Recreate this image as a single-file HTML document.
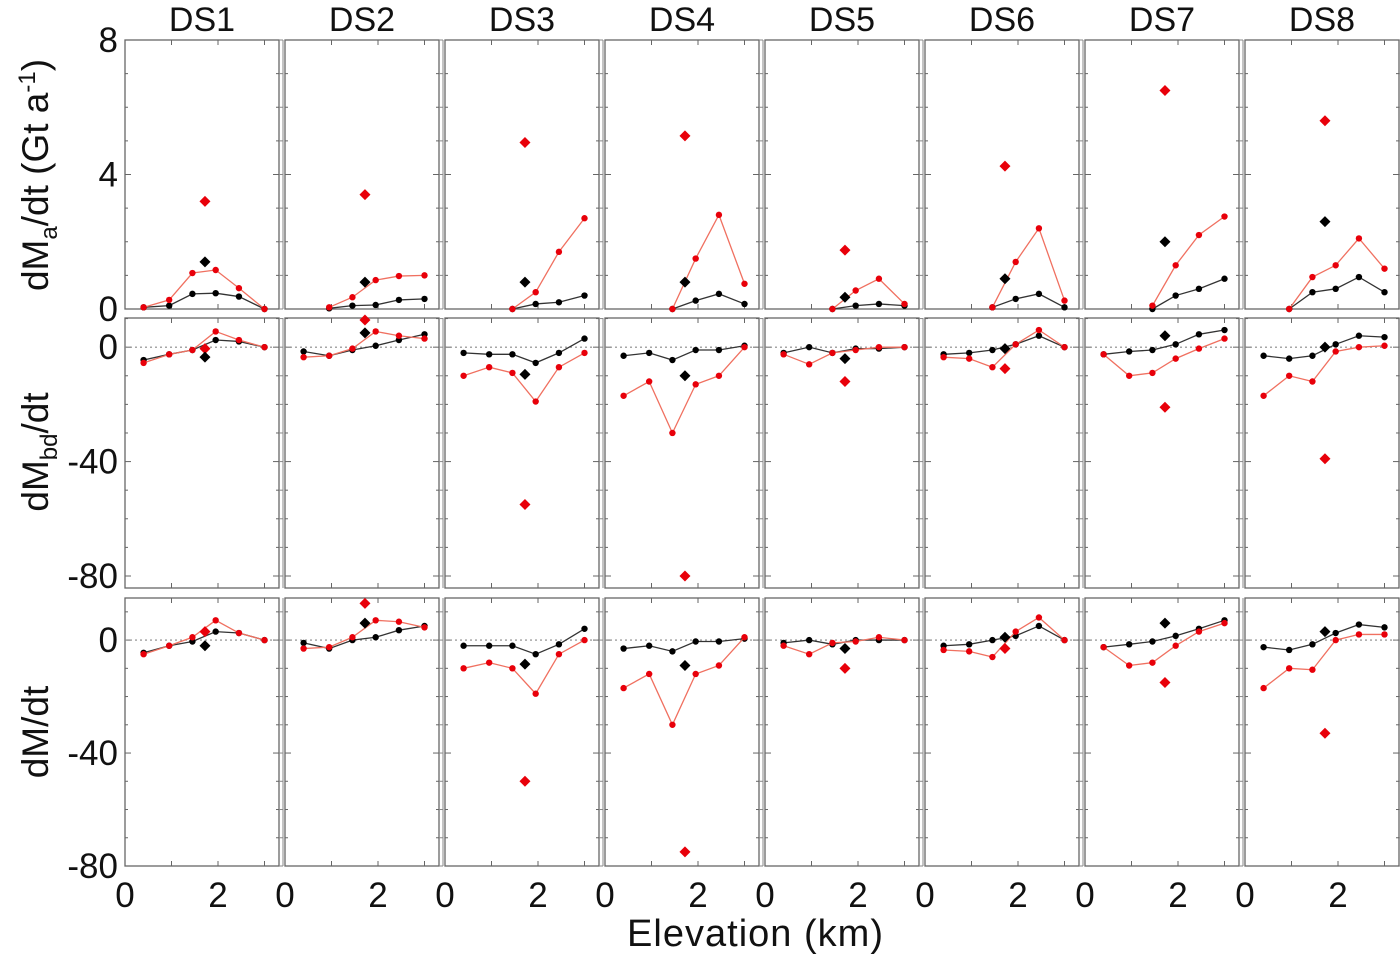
<!DOCTYPE html>
<html><head><meta charset="utf-8"><style>
html,body{margin:0;padding:0;background:#fff;}
svg{display:block;font-family:"Liberation Sans",sans-serif;}
</style></head><body>
<svg id="chart" width="1400" height="954" viewBox="0 0 1400 954" xmlns="http://www.w3.org/2000/svg"></svg>
<script>
const datasets = ["DS1","DS2","DS3","DS4","DS5","DS6","DS7","DS8"];
const elev = [0.4, 0.95, 1.45, 1.95, 2.45, 3.0];
const diamondElev = 1.72;
// Row 1: dMa/dt
const maRed = [
 [0.05,0.27,1.07,1.16,0.62,0],
 [null,0.05,0.35,0.86,0.98,1.0],
 [null,null,0,0.5,1.7,2.7],
 [null,null,0,1.5,2.8,0.75],
 [null,null,0,0.55,0.9,0.15],
 [null,null,0.05,1.4,2.4,0.25],
 [null,null,0.1,1.3,2.2,2.75],
 [null,0,0.95,1.3,2.1,1.2]];
const maBlack = [
 [0.05,0.1,0.45,0.47,0.37,0],
 [null,0.02,0.1,0.12,0.27,0.3],
 [null,null,0,0.15,0.2,0.4],
 [null,null,0,0.25,0.45,0.15],
 [null,null,0,0.1,0.15,0.1],
 [null,null,0.05,0.3,0.45,0.05],
 [null,null,0,0.4,0.6,0.9],
 [null,0,0.5,0.6,0.95,0.5]];
const maDiaRed = [3.2,3.4,4.95,5.15,1.75,4.25,6.5,5.6];
const maDiaBlack = [1.4,0.8,0.8,0.8,0.35,0.9,2.0,2.6];
// Row 2: dMbd/dt
const bdRed = [
 [-5.5,-2.5,-1,5.5,2.5,0],
 [-3.5,-3,-0.5,5.5,4,3],
 [-10,-7,-9,-19,-7,-2],
 [-17,-12,-30,-13,-10,0],
 [-2.5,-6,-2,-1,0,0],
 [-3.5,-4,-7,1,6,0],
 [-2.5,-10,-9,-4,-0.5,3],
 [-17,-10,-12,-1.5,0,0.5]];
const bdBlack = [
 [-4.5,-2.5,-1,2.5,2,0],
 [-1.5,-3,-1,0.5,2.5,4.5],
 [-2,-2.5,-2.5,-5.5,-2,3],
 [-3,-2,-4.5,-1,-1,0.5],
 [-2,0,-2,-0.5,-0.5,0],
 [-2.5,-2,-1,1,4,0],
 [-2.5,-1.5,-1,1,4.5,6],
 [-3,-4,-3,1,4,3.5]];
const bdDiaRed = [-0.5,9.5,-55,-80,-12,-7.5,-21,-39];
const bdDiaBlack = [-3.5,5,-9.5,-10,-4,-0.5,4,0];
// Row 3: dM/dt
const mRed = [
 [-5,-2,1,7,2.5,0],
 [-3,-2.5,1,7,6.5,4.5],
 [-10,-8,-10,-19,-5,0],
 [-17,-12,-30,-12,-9,1],
 [-2,-5,-1,-0.5,1,0],
 [-3.5,-4,-6,3,8,0],
 [-2.5,-9,-8,-2,3,6],
 [-17,-10,-10.5,0,2,2]];
const mBlack = [
 [-4.5,-2,-0.5,3,2.5,0],
 [-1,-3,0,1,3.5,5],
 [-2,-2,-2,-5,-1.5,4],
 [-3,-2,-4,-0.5,-0.5,0.5],
 [-1,0,-1.5,0,0,0],
 [-2,-1.5,0,1.5,5,0],
 [-2.5,-1.5,-0.5,1.5,4,7],
 [-2.5,-3.5,-1.5,2.5,5.5,4.5]];
const mDiaRed = [3,13,-50,-75,-10,-3,-15,-33];
const mDiaBlack = [-2,6,-8.5,-9,-3,1,6,3];

const rows = [
 {top:40,bottom:309,ymin:0,ymax:8,ticks:[0,4,8],minor:1,red:maRed,black:maBlack,dr:maDiaRed,db:maDiaBlack,zero:false,name:"mass-accumulation"},
 {top:318,bottom:588,ymin:-84.2,ymax:10.2,ticks:[0,-40,-80],minor:10,red:bdRed,black:bdBlack,dr:bdDiaRed,db:bdDiaBlack,zero:true,name:"basal-discharge"},
 {top:598,bottom:866,ymin:-80,ymax:14.9,ticks:[0,-40,-80],minor:10,red:mRed,black:mBlack,dr:mDiaRed,db:mDiaBlack,zero:true,name:"mass-change"}];

const NS="http://www.w3.org/2000/svg";
const svg=document.getElementById('chart');
function el(tag,attrs,parent){const e=document.createElementNS(NS,tag);for(const k in attrs)e.setAttribute(k,attrs[k]);(parent||svg).appendChild(e);return e;}
const colLeft0=125, colPitch=160, colW=154, kmPx=46.5;
function xs(c,v){return colLeft0+c*colPitch+v*kmPx;}

rows.forEach((r,ri)=>{
 const ys=v=>r.bottom-(v-r.ymin)/(r.ymax-r.ymin)*(r.bottom-r.top);
 datasets.forEach((ds,c)=>{
  const g=el('g',{});
  
  
  const L=colLeft0+c*colPitch, R=L+colW;
  el('rect',{x:L,y:r.top,width:colW,height:r.bottom-r.top,fill:'none',stroke:'#666','stroke-width':1.3},g);
  el('line',{x1:R+4,y1:r.top,x2:R+4,y2:r.bottom,stroke:'#888','stroke-width':1},g);
  for(let v=Math.ceil(r.ymin/r.minor)*r.minor; v<=r.ymax; v+=r.minor){
   const y=ys(v), major=r.ticks.includes(v);
   el('line',{x1:L,y1:y,x2:L+(major?6:3),y2:y,stroke:'#666'},g);
   el('line',{x1:R,y1:y,x2:R-(major?6:3),y2:y,stroke:'#666'},g);
   el('line',{x1:R,y1:y,x2:R+4,y2:y,stroke:'#888'},g);
  }
  [1,2,3].forEach(k=>{const x=xs(c,k);
   el('line',{x1:x,y1:r.bottom,x2:x,y2:r.bottom-5,stroke:'#666'},g);
   el('line',{x1:x,y1:r.top,x2:x,y2:r.top+5,stroke:'#666'},g);});
  if(r.zero){const z=el('line',{x1:L,y1:ys(0),x2:R,y2:ys(0),stroke:'#888','stroke-dasharray':'2,3','stroke-width':1.2},g);
   }
  [['black',r.black[c],'#333','#000'],['red',r.red[c],'#f07060','#e8000a']].forEach(([nm,vals,lc,mc])=>{
   const pts=[];vals.forEach((v,i)=>{if(v!==null)pts.push([xs(c,elev[i]),ys(v)]);});
   const pl=el('polyline',{points:pts.map(p=>p.join(',')).join(' '),fill:'none',stroke:lc,'stroke-width':1.3},g);
   
   pts.forEach(p=>{const m=el('circle',{cx:p[0],cy:p[1],r:3.2,fill:mc},g);
    });
  });
  [['red',r.dr[c],'#e8000a'],['black',r.db[c],'#000']].forEach(([nm,v,col])=>{
   const x=xs(c,diamondElev), y=ys(v), s=5.5;
   const d=el('polygon',{points:`${x},${y-s} ${x+s},${y} ${x},${y+s} ${x-s},${y}`,fill:col},g);
   
  });
 });
 r.ticks.forEach(v=>{const t=el('text',{x:118,y:ys(v)+12,'text-anchor':'end','font-size':35,fill:'#111'});t.textContent=String(v);
  });
});
datasets.forEach((ds,c)=>{
 const t=el('text',{x:colLeft0+c*colPitch+colW/2,y:31,'text-anchor':'middle','font-size':34,fill:'#111'});t.textContent=ds;
 
 [0,2].forEach(v=>{const x=el('text',{x:xs(c,v),y:907,'text-anchor':'middle','font-size':35,fill:'#111'});x.textContent=v;
  });
});
</script>
<svg style="position:absolute;left:0;top:0" width="1400" height="954">
<text x="755" y="946" text-anchor="middle" font-family="Liberation Sans, sans-serif" font-size="38" textLength="256" fill="#111">Elevation (km)</text>
<text transform="translate(48,175) rotate(-90)" text-anchor="middle" font-family="Liberation Sans, sans-serif" font-size="37" fill="#111">dM<tspan font-size="24" dy="9">a</tspan><tspan dy="-9">/dt (Gt a</tspan><tspan font-size="24" dy="-13">-1</tspan><tspan dy="13">)</tspan></text>
<text transform="translate(48,452) rotate(-90)" text-anchor="middle" font-family="Liberation Sans, sans-serif" font-size="37" fill="#111">dM<tspan font-size="24" dy="9">bd</tspan><tspan dy="-9">/dt</tspan></text>
<text transform="translate(48,732) rotate(-90)" text-anchor="middle" font-family="Liberation Sans, sans-serif" font-size="37" fill="#111">dM/dt</text>
</svg>
</body></html>
